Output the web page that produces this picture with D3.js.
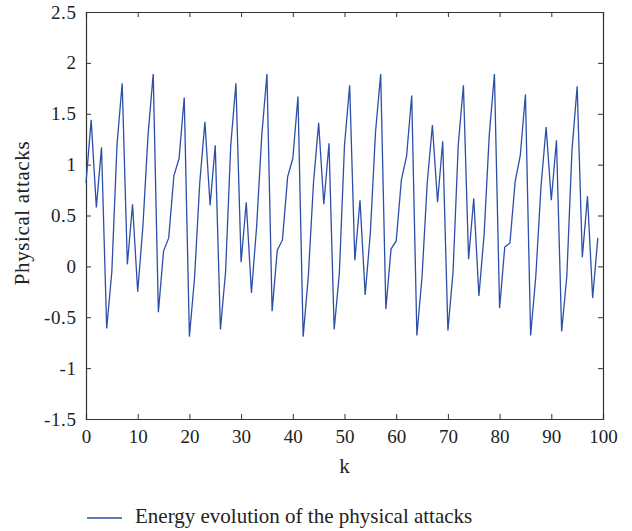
<!DOCTYPE html>
<html>
<head>
<meta charset="utf-8">
<script src="https://cdn.jsdelivr.net/npm/d3@7"></script>
<style>
  html, body { margin: 0; padding: 0; background: #fff; }
  svg { display: block; }
  text { font-family: "Liberation Serif", "DejaVu Serif", serif; fill: #222; }
</style>
</head>
<body>
<svg id="chart" width="632" height="531"></svg>
<script>
// ---- data ----
const kValues = d3.range(0, 100);
const energy = [
  0.82, 1.44, 0.58, 1.17, -0.61, -0.05, 1.20, 1.80, 0.02, 0.61,
  -0.25, 0.39, 1.29, 1.89, -0.45, 0.15, 0.28, 0.89, 1.06, 1.66,
  -0.69, -0.11, 0.82, 1.42, 0.60, 1.19, -0.62, -0.05, 1.19, 1.80,
  0.04, 0.63, -0.26, 0.39, 1.29, 1.89, -0.44, 0.16, 0.26, 0.88,
  1.06, 1.67, -0.69, -0.10, 0.82, 1.41, 0.61, 1.21, -0.62, -0.07,
  1.19, 1.78, 0.06, 0.65, -0.28, 0.33, 1.32, 1.89, -0.42, 0.17,
  0.25, 0.85, 1.08, 1.68, -0.68, -0.10, 0.82, 1.39, 0.63, 1.23,
  -0.63, -0.05, 1.19, 1.78, 0.07, 0.67, -0.29, 0.31, 1.29, 1.89,
  -0.41, 0.19, 0.23, 0.83, 1.09, 1.69, -0.68, -0.10, 0.78, 1.37,
  0.65, 1.24, -0.64, -0.10, 1.14, 1.77, 0.09, 0.69, -0.31, 0.28
];
const xTicks = [0, 10, 20, 30, 40, 50, 60, 70, 80, 90, 100];
const yTicks = [-1.5, -1, -0.5, 0, 0.5, 1, 1.5, 2, 2.5];
const xDomain = [0, 100];
const yDomain = [-1.5, 2.5];
const xLabel = "k";
const yLabel = "Physical attacks";
const legendLabel = "Energy evolution of the physical attacks";

// ---- layout ----
const plot = { left: 86, right: 603, top: 12, bottom: 419 };
const lineColor = "#2d4fa8";
const axisColor = "#333";
const fontFamily = "Liberation Serif, DejaVu Serif, serif";

const svg = d3.select("#chart");
const x = d3.scaleLinear().domain(xDomain).range([plot.left, plot.right]);
const y = d3.scaleLinear().domain(yDomain).range([plot.bottom, plot.top]);

const fmt = d => (d < 0 ? "-" : "") + String(Math.abs(d));

// bottom axis (ticks inward)
const gx = svg.append("g").attr("transform", `translate(0,${plot.bottom})`)
  .call(d3.axisBottom(x).tickValues(xTicks).tickSize(-5).tickPadding(11).tickFormat(fmt));
// left axis
const gy = svg.append("g").attr("transform", `translate(${plot.left},0)`)
  .call(d3.axisLeft(y).tickValues(yTicks).tickSize(-5).tickPadding(9.5).tickFormat(fmt));
// top axis (ticks only)
const gt = svg.append("g").attr("transform", `translate(0,${plot.top})`)
  .call(d3.axisTop(x).tickValues(xTicks).tickSize(-5).tickFormat(""));
// right axis (ticks only)
const gr = svg.append("g").attr("transform", `translate(${plot.right},0)`)
  .call(d3.axisRight(y).tickValues(yTicks).tickSize(-5).tickFormat(""));

[gx, gy, gt, gr].forEach(g => {
  g.select(".domain").attr("stroke", axisColor).attr("stroke-width", 1.2);
  g.selectAll(".tick line").attr("stroke", axisColor).attr("stroke-width", 1);
  g.selectAll(".tick text").attr("font-size", 19).attr("fill", "#222")
    .attr("font-family", fontFamily);
});
gy.selectAll(".tick text").attr("letter-spacing", 0.6);

// line
const line = d3.line().x((d, i) => x(kValues[i])).y(d => y(d));
svg.append("path")
  .datum(energy)
  .attr("fill", "none")
  .attr("stroke", lineColor)
  .attr("stroke-width", 1.3)
  .attr("stroke-linejoin", "miter")
  .attr("d", line);

// axis labels
svg.append("text")
  .attr("x", (plot.left + plot.right) / 2)
  .attr("y", 473)
  .attr("text-anchor", "middle")
  .attr("font-size", 21)
  .text(xLabel);

svg.append("text")
  .attr("transform", `translate(29,213) rotate(-90)`)
  .attr("text-anchor", "middle")
  .attr("font-size", 21)
  .attr("letter-spacing", 0.6)
  .text(yLabel);

// legend
svg.append("line")
  .attr("x1", 87).attr("x2", 122)
  .attr("y1", 518).attr("y2", 518)
  .attr("stroke", lineColor).attr("stroke-width", 1.3);
svg.append("text")
  .attr("x", 135).attr("y", 523)
  .attr("font-size", 21)
  .text(legendLabel);
</script>
</body>
</html>
